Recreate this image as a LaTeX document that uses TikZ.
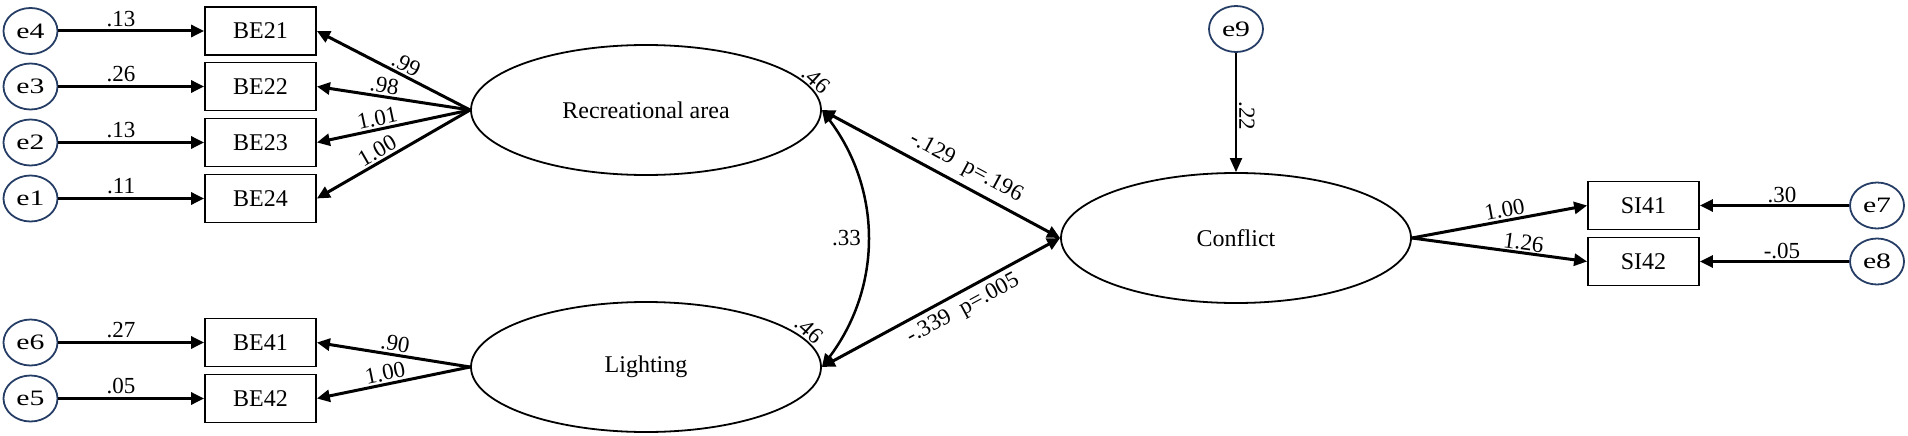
\documentclass[tikz,border=0pt]{standalone}
\usepackage{fontspec}
\setmainfont{Liberation Serif}
\newfontfamily\efont[FakeStretch=1.35]{Liberation Serif}
\usetikzlibrary{arrows.meta,shapes.geometric,calc}
\definecolor{errc}{RGB}{38,62,102}
\begin{document}
\begin{tikzpicture}[x=1pt,y=-1pt,
  obs/.style={draw, line width=1.8pt, minimum width=111pt, minimum height=48pt, inner sep=0pt, font=\fontsize{24}{24}\selectfont},
  lat/.style={draw, ellipse, line width=1.8pt, minimum width=350pt, minimum height=130pt, inner sep=0pt, font=\fontsize{24}{24}\selectfont},
  err/.style={draw=errc, ellipse, line width=1.8pt, minimum width=54pt, minimum height=46pt, inner sep=0pt, font=\efont\fontsize{22}{22}\selectfont},
  arr/.style={line width=3pt, -{Triangle[length=13pt,width=12pt]}},
  thinarr/.style={line width=2pt, -{Triangle[length=14pt,width=12pt]}},
  dbl/.style={line width=3pt, {Triangle[length=13pt,width=12pt]}-{Triangle[length=13pt,width=12pt]}},
  curv/.style={line width=2.5pt, {Triangle[length=13pt,width=11pt]}-{Triangle[length=13pt,width=11pt]}},
  lbl/.style={font=\fontsize{23}{23}\selectfont, inner sep=1pt},
]
\useasboundingbox (0,0) rectangle (1908,436);

% error terms (left)
\node[err] (e4) at (30.5,31) {e4};
\node[err] (e3) at (30.5,86.5) {e3};
\node[err] (e2) at (30.5,142.5) {e2};
\node[err] (e1) at (30.5,198.5) {e1};
\node[err] (e6) at (30.5,342.5) {e6};
\node[err] (e5) at (30.5,398.5) {e5};

% observed indicators (left)
\node[obs] (BE21) at (260.5,31) {BE21};
\node[obs] (BE22) at (260.5,86.5) {BE22};
\node[obs] (BE23) at (260.5,142.5) {BE23};
\node[obs] (BE24) at (260.5,198.5) {BE24};
\node[obs] (BE41) at (260.5,342.5) {BE41};
\node[obs] (BE42) at (260.5,398.5) {BE42};

% latent variables
\node[lat] (rec) at (646,110) {Recreational area};
\node[lat] (light) at (646,367) {Lighting};
\node[lat] (conf) at (1236,238) {Conflict};

% right side
\node[err] (e9) at (1236,29) {e9};
\node[obs] (SI41) at (1643.5,205.5) {SI41};
\node[obs] (SI42) at (1643.5,261.5) {SI42};
\node[err] (e7) at (1877,205.5) {e7};
\node[err] (e8) at (1877,261.5) {e8};

% error arrows (left)
\draw[arr] (e4) -- node[lbl, pos=0.43, above=2pt] {.13} (BE21);
\draw[arr] (e3) -- node[lbl, pos=0.43, above=2pt] {.26} (BE22);
\draw[arr] (e2) -- node[lbl, pos=0.43, above=2pt] {.13} (BE23);
\draw[arr] (e1) -- node[lbl, pos=0.43, above=2pt] {.11} (BE24);
\draw[arr] (e6) -- node[lbl, pos=0.43, above=2pt] {.27} (BE41);
\draw[arr] (e5) -- node[lbl, pos=0.43, above=2pt] {.05} (BE42);

% loadings
\draw[arr] (rec.west) -- node[lbl, sloped, pos=0.45, above=1pt] {.99} (BE21.east);
\draw[arr] (rec.west) -- node[lbl, sloped, pos=0.57, above=1pt] {.98} (BE22.east);
\draw[arr] (rec.west) -- node[lbl, sloped, pos=0.59, above=1pt] {1.01} (BE23.east);
\draw[arr] (rec.west) -- node[lbl, sloped, pos=0.57, above=1pt] {1.00} (BE24.east);
\draw[arr] (light.west) -- node[lbl, sloped, pos=0.5, above=1pt] {.90} (BE41.east);
\draw[arr] (light.west) -- node[lbl, sloped, pos=0.54, above=1pt] {1.00} (BE42.east);

% variances
\node[lbl, rotate=-42] (v1) at ($(rec.center)+(170,-30)$) {.46};
\node[lbl, rotate=-42] (v2) at ($(light.center)+(163,-37)$) {.46};

% covariance
\draw[curv] (rec.east) to[bend left=37] node[lbl, midway, left=4pt] {.33} (light.east);

% structural paths
\draw[dbl] (rec.east) -- node[lbl, sloped, pos=0.57, above=5pt] {-.129\hspace{12pt}p=.196} (conf.west);
\draw[dbl] (light.east) -- node[lbl, sloped, pos=0.56, below=4pt] {-.339\hspace{12pt}p=.005} (conf.west);

% disturbance
\draw[thinarr] (e9) -- node[lbl, pos=0.53, rotate=-90, anchor=south, yshift=1pt] {.22} (conf.north);

% conflict indicators
\draw[arr] (conf.east) -- node[lbl, sloped, pos=0.54, above=1pt] {1.00} (SI41.west);
\draw[arr] (conf.east) -- node[lbl, sloped, pos=0.63, above=0pt] {1.26} (SI42.west);
\draw[arr] (e7) -- node[lbl, pos=0.45, above=0pt] {.30} (SI41);
\draw[arr] (e8) -- node[lbl, pos=0.45, above=0pt] {-.05} (SI42);
\end{tikzpicture}
\end{document}
